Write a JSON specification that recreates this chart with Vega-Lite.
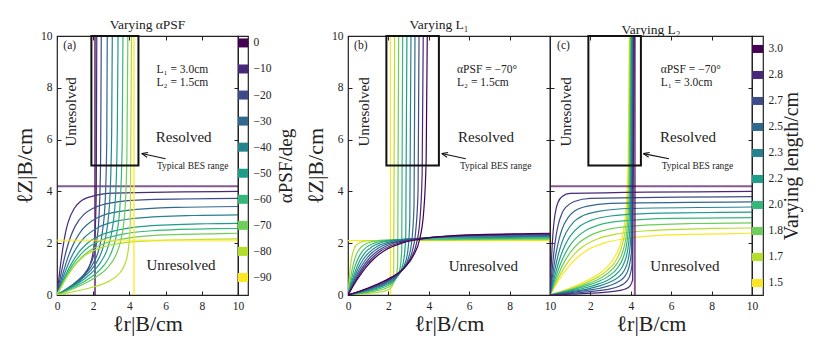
{
"$schema":"https://vega.github.io/schema/vega-lite/v6.json",
"background":"white",
"padding":{"left":12,"top":16,"right":4,"bottom":2},
"bounds":"flush",
"spacing":0,
"config":{
 "font":"Liberation Serif",
 "view":{"stroke":"#222","strokeWidth":1.2},
 "axis":{"grid":false,"domain":false,"tickSize":-4,"tickColor":"#222","tickWidth":1,"labelPadding":9,"labelFont":"Liberation Serif","labelFontSize":11.5,"labelColor":"#222","labelFlush":false,"labelOverlap":false,"titleFont":"Liberation Serif","titleFontWeight":"normal","titleFontSize":22,"titleColor":"#222"},
 "axisX":{"titlePadding":2},
 "title":{"font":"Liberation Serif","fontSize":13.5,"fontWeight":"normal","color":"#222","offset":-1},
 "text":{"font":"Liberation Serif","color":"#222"}
},
"datasets":{
"A":[
{"k":0,"s":"h","x":0,"y":4.2},{"k":0,"s":"h","x":10.5,"y":4.2},
{"k":0,"s":"v","x":2.1,"y":0},{"k":0,"s":"v","x":2.1,"y":10.5},
{"k":-10,"s":"h","x":0,"y":0},{"k":-10,"s":"h","x":0.16,"y":0.97},{"k":-10,"s":"h","x":0.32,"y":1.79},{"k":-10,"s":"h","x":0.47,"y":2.41},{"k":-10,"s":"h","x":0.63,"y":2.84},{"k":-10,"s":"h","x":0.95,"y":3.34},{"k":-10,"s":"h","x":1.26,"y":3.59},{"k":-10,"s":"h","x":1.89,"y":3.8},{"k":-10,"s":"h","x":3.15,"y":3.93},{"k":-10,"s":"h","x":10.5,"y":4.0},
{"k":-10,"s":"v","x":0,"y":0},{"k":-10,"s":"v","x":0.54,"y":0.2},{"k":-10,"s":"v","x":0.99,"y":0.4},{"k":-10,"s":"v","x":1.33,"y":0.6},{"k":-10,"s":"v","x":1.56,"y":0.8},{"k":-10,"s":"v","x":1.84,"y":1.2},{"k":-10,"s":"v","x":1.98,"y":1.6},{"k":-10,"s":"v","x":2.1,"y":2.4},{"k":-10,"s":"v","x":2.17,"y":4},{"k":-10,"s":"v","x":2.2,"y":10.5},
{"k":-20,"s":"h","x":0,"y":0},{"k":-20,"s":"h","x":0.25,"y":0.91},{"k":-20,"s":"h","x":0.5,"y":1.68},{"k":-20,"s":"h","x":0.75,"y":2.25},{"k":-20,"s":"h","x":1,"y":2.65},{"k":-20,"s":"h","x":1.5,"y":3.12},{"k":-20,"s":"h","x":2,"y":3.35},{"k":-20,"s":"h","x":3,"y":3.56},{"k":-20,"s":"h","x":5,"y":3.68},{"k":-20,"s":"h","x":10.5,"y":3.73},
{"k":-20,"s":"v","x":0,"y":0},{"k":-20,"s":"v","x":0.6,"y":0.26},{"k":-20,"s":"v","x":1.1,"y":0.53},{"k":-20,"s":"v","x":1.48,"y":0.79},{"k":-20,"s":"v","x":1.74,"y":1.05},{"k":-20,"s":"v","x":2.05,"y":1.58},{"k":-20,"s":"v","x":2.2,"y":2.1},{"k":-20,"s":"v","x":2.33,"y":3.15},{"k":-20,"s":"v","x":2.41,"y":5.25},{"k":-20,"s":"v","x":2.45,"y":10.5},
{"k":-30,"s":"h","x":0,"y":0},{"k":-30,"s":"h","x":0.33,"y":0.84},{"k":-30,"s":"h","x":0.65,"y":1.54},{"k":-30,"s":"h","x":0.98,"y":2.07},{"k":-30,"s":"h","x":1.3,"y":2.44},{"k":-30,"s":"h","x":1.95,"y":2.87},{"k":-30,"s":"h","x":2.6,"y":3.09},{"k":-30,"s":"h","x":3.9,"y":3.27},{"k":-30,"s":"h","x":6.5,"y":3.38},{"k":-30,"s":"h","x":10.5,"y":3.42},
{"k":-30,"s":"v","x":0,"y":0},{"k":-30,"s":"v","x":0.68,"y":0.3},{"k":-30,"s":"v","x":1.25,"y":0.6},{"k":-30,"s":"v","x":1.68,"y":0.9},{"k":-30,"s":"v","x":1.98,"y":1.2},{"k":-30,"s":"v","x":2.33,"y":1.8},{"k":-30,"s":"v","x":2.5,"y":2.4},{"k":-30,"s":"v","x":2.66,"y":3.6},{"k":-30,"s":"v","x":2.75,"y":6},{"k":-30,"s":"v","x":2.78,"y":10.5},
{"k":-40,"s":"h","x":0,"y":0},{"k":-40,"s":"h","x":0.38,"y":0.76},{"k":-40,"s":"h","x":0.75,"y":1.4},{"k":-40,"s":"h","x":1.13,"y":1.88},{"k":-40,"s":"h","x":1.5,"y":2.21},{"k":-40,"s":"h","x":2.25,"y":2.6},{"k":-40,"s":"h","x":3,"y":2.8},{"k":-40,"s":"h","x":4.5,"y":2.97},{"k":-40,"s":"h","x":7.5,"y":3.07},{"k":-40,"s":"h","x":10.5,"y":3.1},
{"k":-40,"s":"v","x":0,"y":0},{"k":-40,"s":"v","x":0.75,"y":0.31},{"k":-40,"s":"v","x":1.38,"y":0.63},{"k":-40,"s":"v","x":1.85,"y":0.94},{"k":-40,"s":"v","x":2.18,"y":1.25},{"k":-40,"s":"v","x":2.56,"y":1.88},{"k":-40,"s":"v","x":2.75,"y":2.5},{"k":-40,"s":"v","x":2.92,"y":3.75},{"k":-40,"s":"v","x":3.02,"y":6.25},{"k":-40,"s":"v","x":3.06,"y":10.5},
{"k":-50,"s":"h","x":0,"y":0},{"k":-50,"s":"h","x":0.41,"y":0.68},{"k":-50,"s":"h","x":0.83,"y":1.25},{"k":-50,"s":"h","x":1.24,"y":1.68},{"k":-50,"s":"h","x":1.65,"y":1.98},{"k":-50,"s":"h","x":2.48,"y":2.33},{"k":-50,"s":"h","x":3.3,"y":2.5},{"k":-50,"s":"h","x":4.95,"y":2.66},{"k":-50,"s":"h","x":8.25,"y":2.75},{"k":-50,"s":"h","x":10.5,"y":2.77},
{"k":-50,"s":"v","x":0,"y":0},{"k":-50,"s":"v","x":0.82,"y":0.31},{"k":-50,"s":"v","x":1.52,"y":0.63},{"k":-50,"s":"v","x":2.04,"y":0.94},{"k":-50,"s":"v","x":2.4,"y":1.25},{"k":-50,"s":"v","x":2.83,"y":1.88},{"k":-50,"s":"v","x":3.04,"y":2.5},{"k":-50,"s":"v","x":3.23,"y":3.75},{"k":-50,"s":"v","x":3.33,"y":6.25},{"k":-50,"s":"v","x":3.38,"y":10.5},
{"k":-60,"s":"h","x":0,"y":0},{"k":-60,"s":"h","x":0.44,"y":0.63},{"k":-60,"s":"h","x":0.88,"y":1.17},{"k":-60,"s":"h","x":1.31,"y":1.57},{"k":-60,"s":"h","x":1.75,"y":1.85},{"k":-60,"s":"h","x":2.63,"y":2.17},{"k":-60,"s":"h","x":3.5,"y":2.33},{"k":-60,"s":"h","x":5.25,"y":2.48},{"k":-60,"s":"h","x":8.75,"y":2.56},{"k":-60,"s":"h","x":10.5,"y":2.57},
{"k":-60,"s":"v","x":0,"y":0},{"k":-60,"s":"v","x":0.89,"y":0.29},{"k":-60,"s":"v","x":1.64,"y":0.58},{"k":-60,"s":"v","x":2.2,"y":0.86},{"k":-60,"s":"v","x":2.6,"y":1.15},{"k":-60,"s":"v","x":3.05,"y":1.73},{"k":-60,"s":"v","x":3.28,"y":2.3},{"k":-60,"s":"v","x":3.48,"y":3.45},{"k":-60,"s":"v","x":3.6,"y":5.75},{"k":-60,"s":"v","x":3.65,"y":10.5},
{"k":-70,"s":"h","x":0,"y":0},{"k":-70,"s":"h","x":0.45,"y":0.59},{"k":-70,"s":"h","x":0.9,"y":1.08},{"k":-70,"s":"h","x":1.35,"y":1.45},{"k":-70,"s":"h","x":1.8,"y":1.71},{"k":-70,"s":"h","x":2.7,"y":2.01},{"k":-70,"s":"h","x":3.6,"y":2.16},{"k":-70,"s":"h","x":5.4,"y":2.3},{"k":-70,"s":"h","x":9,"y":2.37},{"k":-70,"s":"h","x":10.5,"y":2.39},
{"k":-70,"s":"v","x":0,"y":0},{"k":-70,"s":"v","x":0.96,"y":0.26},{"k":-70,"s":"v","x":1.76,"y":0.53},{"k":-70,"s":"v","x":2.36,"y":0.79},{"k":-70,"s":"v","x":2.79,"y":1.05},{"k":-70,"s":"v","x":3.28,"y":1.58},{"k":-70,"s":"v","x":3.52,"y":2.1},{"k":-70,"s":"v","x":3.74,"y":3.15},{"k":-70,"s":"v","x":3.86,"y":5.25},{"k":-70,"s":"v","x":3.92,"y":10.5},
{"k":-80,"s":"h","x":0,"y":0},{"k":-80,"s":"h","x":0.4,"y":0.53},{"k":-80,"s":"h","x":0.8,"y":0.98},{"k":-80,"s":"h","x":1.2,"y":1.31},{"k":-80,"s":"h","x":1.6,"y":1.55},{"k":-80,"s":"h","x":2.4,"y":1.82},{"k":-80,"s":"h","x":3.2,"y":1.96},{"k":-80,"s":"h","x":4.8,"y":2.08},{"k":-80,"s":"h","x":8,"y":2.15},{"k":-80,"s":"h","x":10.5,"y":2.17},
{"k":-80,"s":"v","x":0,"y":0},{"k":-80,"s":"v","x":1.0,"y":0.14},{"k":-80,"s":"v","x":1.85,"y":0.28},{"k":-80,"s":"v","x":2.48,"y":0.41},{"k":-80,"s":"v","x":2.92,"y":0.55},{"k":-80,"s":"v","x":3.44,"y":0.83},{"k":-80,"s":"v","x":3.69,"y":1.1},{"k":-80,"s":"v","x":3.92,"y":1.65},{"k":-80,"s":"v","x":4.05,"y":2.75},{"k":-80,"s":"v","x":4.12,"y":10.5},
{"k":-90,"s":"h","x":0,"y":2.1},{"k":-90,"s":"h","x":10.5,"y":2.1},
{"k":-90,"s":"v","x":4.25,"y":0},{"k":-90,"s":"v","x":4.25,"y":10.5}
],
"B":[
{"k":1.5,"s":"h","x":0,"y":2.1},{"k":1.5,"s":"h","x":10.5,"y":2.1},
{"k":1.5,"s":"v","x":2.1,"y":0},{"k":1.5,"s":"v","x":2.1,"y":10.5},
{"k":1.667,"s":"h","x":0,"y":0},{"k":1.667,"s":"h","x":0.05,"y":0.52},{"k":1.667,"s":"h","x":0.1,"y":0.96},{"k":1.667,"s":"h","x":0.15,"y":1.28},{"k":1.667,"s":"h","x":0.2,"y":1.51},{"k":1.667,"s":"h","x":0.3,"y":1.78},{"k":1.667,"s":"h","x":0.4,"y":1.91},{"k":1.667,"s":"h","x":0.6,"y":2.03},{"k":1.667,"s":"h","x":1,"y":2.1},{"k":1.667,"s":"h","x":10.5,"y":2.14},
{"k":1.667,"s":"v","x":0,"y":0},{"k":1.667,"s":"v","x":0.56,"y":0.03},{"k":1.667,"s":"v","x":1.03,"y":0.06},{"k":1.667,"s":"v","x":1.38,"y":0.09},{"k":1.667,"s":"v","x":1.63,"y":0.12},{"k":1.667,"s":"v","x":1.92,"y":0.18},{"k":1.667,"s":"v","x":2.06,"y":0.23},{"k":1.667,"s":"v","x":2.19,"y":0.35},{"k":1.667,"s":"v","x":2.26,"y":0.58},{"k":1.667,"s":"v","x":2.31,"y":10.5},
{"k":1.833,"s":"h","x":0,"y":0},{"k":1.833,"s":"h","x":0.1,"y":0.53},{"k":1.833,"s":"h","x":0.2,"y":0.97},{"k":1.833,"s":"h","x":0.3,"y":1.3},{"k":1.833,"s":"h","x":0.4,"y":1.54},{"k":1.833,"s":"h","x":0.6,"y":1.81},{"k":1.833,"s":"h","x":0.8,"y":1.94},{"k":1.833,"s":"h","x":1.2,"y":2.06},{"k":1.833,"s":"h","x":2,"y":2.13},{"k":1.833,"s":"h","x":10.5,"y":2.17},
{"k":1.833,"s":"v","x":0,"y":0},{"k":1.833,"s":"v","x":0.61,"y":0.06},{"k":1.833,"s":"v","x":1.12,"y":0.12},{"k":1.833,"s":"v","x":1.51,"y":0.18},{"k":1.833,"s":"v","x":1.78,"y":0.23},{"k":1.833,"s":"v","x":2.09,"y":0.35},{"k":1.833,"s":"v","x":2.25,"y":0.47},{"k":1.833,"s":"v","x":2.38,"y":0.7},{"k":1.833,"s":"v","x":2.46,"y":1.17},{"k":1.833,"s":"v","x":2.51,"y":10.5},
{"k":2,"s":"h","x":0,"y":0},{"k":2,"s":"h","x":0.15,"y":0.54},{"k":2,"s":"h","x":0.3,"y":0.99},{"k":2,"s":"h","x":0.45,"y":1.32},{"k":2,"s":"h","x":0.6,"y":1.56},{"k":2,"s":"h","x":0.9,"y":1.84},{"k":2,"s":"h","x":1.2,"y":1.97},{"k":2,"s":"h","x":1.8,"y":2.09},{"k":2,"s":"h","x":3,"y":2.16},{"k":2,"s":"h","x":10.5,"y":2.2},
{"k":2,"s":"v","x":0,"y":0},{"k":2,"s":"v","x":0.66,"y":0.09},{"k":2,"s":"v","x":1.21,"y":0.18},{"k":2,"s":"v","x":1.63,"y":0.26},{"k":2,"s":"v","x":1.92,"y":0.35},{"k":2,"s":"v","x":2.26,"y":0.53},{"k":2,"s":"v","x":2.43,"y":0.7},{"k":2,"s":"v","x":2.58,"y":1.05},{"k":2,"s":"v","x":2.66,"y":1.75},{"k":2,"s":"v","x":2.71,"y":10.5},
{"k":2.167,"s":"h","x":0,"y":0},{"k":2.167,"s":"h","x":0.2,"y":0.54},{"k":2.167,"s":"h","x":0.4,"y":1},{"k":2.167,"s":"h","x":0.6,"y":1.35},{"k":2.167,"s":"h","x":0.8,"y":1.59},{"k":2.167,"s":"h","x":1.2,"y":1.87},{"k":2.167,"s":"h","x":1.6,"y":2.01},{"k":2.167,"s":"h","x":2.4,"y":2.13},{"k":2.167,"s":"h","x":4,"y":2.2},{"k":2.167,"s":"h","x":10.5,"y":2.24},
{"k":2.167,"s":"v","x":0,"y":0},{"k":2.167,"s":"v","x":0.71,"y":0.12},{"k":2.167,"s":"v","x":1.31,"y":0.23},{"k":2.167,"s":"v","x":1.75,"y":0.35},{"k":2.167,"s":"v","x":2.07,"y":0.47},{"k":2.167,"s":"v","x":2.43,"y":0.7},{"k":2.167,"s":"v","x":2.61,"y":0.93},{"k":2.167,"s":"v","x":2.77,"y":1.4},{"k":2.167,"s":"v","x":2.86,"y":2.33},{"k":2.167,"s":"v","x":2.92,"y":10.5},
{"k":2.333,"s":"h","x":0,"y":0},{"k":2.333,"s":"h","x":0.25,"y":0.55},{"k":2.333,"s":"h","x":0.5,"y":1.02},{"k":2.333,"s":"h","x":0.75,"y":1.37},{"k":2.333,"s":"h","x":1,"y":1.61},{"k":2.333,"s":"h","x":1.5,"y":1.9},{"k":2.333,"s":"h","x":2,"y":2.04},{"k":2.333,"s":"h","x":3,"y":2.16},{"k":2.333,"s":"h","x":5,"y":2.23},{"k":2.333,"s":"h","x":10.5,"y":2.27},
{"k":2.333,"s":"v","x":0,"y":0},{"k":2.333,"s":"v","x":0.76,"y":0.15},{"k":2.333,"s":"v","x":1.4,"y":0.29},{"k":2.333,"s":"v","x":1.88,"y":0.44},{"k":2.333,"s":"v","x":2.21,"y":0.58},{"k":2.333,"s":"v","x":2.6,"y":0.88},{"k":2.333,"s":"v","x":2.8,"y":1.17},{"k":2.333,"s":"v","x":2.97,"y":1.75},{"k":2.333,"s":"v","x":3.06,"y":2.92},{"k":2.333,"s":"v","x":3.12,"y":10.5},
{"k":2.5,"s":"h","x":0,"y":0},{"k":2.5,"s":"h","x":0.3,"y":0.56},{"k":2.5,"s":"h","x":0.6,"y":1.03},{"k":2.5,"s":"h","x":0.9,"y":1.39},{"k":2.5,"s":"h","x":1.2,"y":1.64},{"k":2.5,"s":"h","x":1.8,"y":1.93},{"k":2.5,"s":"h","x":2.4,"y":2.07},{"k":2.5,"s":"h","x":3.6,"y":2.19},{"k":2.5,"s":"h","x":6,"y":2.27},{"k":2.5,"s":"h","x":10.5,"y":2.3},
{"k":2.5,"s":"v","x":0,"y":0},{"k":2.5,"s":"v","x":0.81,"y":0.18},{"k":2.5,"s":"v","x":1.49,"y":0.35},{"k":2.5,"s":"v","x":2,"y":0.53},{"k":2.5,"s":"v","x":2.36,"y":0.7},{"k":2.5,"s":"v","x":2.77,"y":1.05},{"k":2.5,"s":"v","x":2.98,"y":1.4},{"k":2.5,"s":"v","x":3.16,"y":2.1},{"k":2.5,"s":"v","x":3.27,"y":3.5},{"k":2.5,"s":"v","x":3.32,"y":10.5},
{"k":2.667,"s":"h","x":0,"y":0},{"k":2.667,"s":"h","x":0.35,"y":0.57},{"k":2.667,"s":"h","x":0.7,"y":1.05},{"k":2.667,"s":"h","x":1.05,"y":1.41},{"k":2.667,"s":"h","x":1.4,"y":1.66},{"k":2.667,"s":"h","x":2.1,"y":1.96},{"k":2.667,"s":"h","x":2.8,"y":2.1},{"k":2.667,"s":"h","x":4.2,"y":2.23},{"k":2.667,"s":"h","x":7,"y":2.3},{"k":2.667,"s":"h","x":10.5,"y":2.33},
{"k":2.667,"s":"v","x":0,"y":0},{"k":2.667,"s":"v","x":0.86,"y":0.2},{"k":2.667,"s":"v","x":1.58,"y":0.41},{"k":2.667,"s":"v","x":2.12,"y":0.61},{"k":2.667,"s":"v","x":2.5,"y":0.82},{"k":2.667,"s":"v","x":2.94,"y":1.23},{"k":2.667,"s":"v","x":3.16,"y":1.63},{"k":2.667,"s":"v","x":3.35,"y":2.45},{"k":2.667,"s":"v","x":3.47,"y":4.08},{"k":2.667,"s":"v","x":3.52,"y":10.5},
{"k":2.833,"s":"h","x":0,"y":0},{"k":2.833,"s":"h","x":0.4,"y":0.58},{"k":2.833,"s":"h","x":0.8,"y":1.07},{"k":2.833,"s":"h","x":1.2,"y":1.43},{"k":2.833,"s":"h","x":1.6,"y":1.69},{"k":2.833,"s":"h","x":2.4,"y":1.98},{"k":2.833,"s":"h","x":3.2,"y":2.13},{"k":2.833,"s":"h","x":4.8,"y":2.26},{"k":2.833,"s":"h","x":8,"y":2.34},{"k":2.833,"s":"h","x":10.5,"y":2.36},
{"k":2.833,"s":"v","x":0,"y":0},{"k":2.833,"s":"v","x":0.91,"y":0.23},{"k":2.833,"s":"v","x":1.67,"y":0.47},{"k":2.833,"s":"v","x":2.24,"y":0.7},{"k":2.833,"s":"v","x":2.65,"y":0.93},{"k":2.833,"s":"v","x":3.11,"y":1.4},{"k":2.833,"s":"v","x":3.35,"y":1.87},{"k":2.833,"s":"v","x":3.55,"y":2.8},{"k":2.833,"s":"v","x":3.67,"y":4.67},{"k":2.833,"s":"v","x":3.73,"y":10.5},
{"k":3,"s":"h","x":0,"y":0},{"k":3,"s":"h","x":0.45,"y":0.59},{"k":3,"s":"h","x":0.9,"y":1.08},{"k":3,"s":"h","x":1.35,"y":1.45},{"k":3,"s":"h","x":1.8,"y":1.71},{"k":3,"s":"h","x":2.7,"y":2.01},{"k":3,"s":"h","x":3.6,"y":2.16},{"k":3,"s":"h","x":5.4,"y":2.3},{"k":3,"s":"h","x":9,"y":2.37},{"k":3,"s":"h","x":10.5,"y":2.39},
{"k":3,"s":"v","x":0,"y":0},{"k":3,"s":"v","x":0.96,"y":0.26},{"k":3,"s":"v","x":1.76,"y":0.53},{"k":3,"s":"v","x":2.37,"y":0.79},{"k":3,"s":"v","x":2.79,"y":1.05},{"k":3,"s":"v","x":3.28,"y":1.58},{"k":3,"s":"v","x":3.53,"y":2.1},{"k":3,"s":"v","x":3.74,"y":3.15},{"k":3,"s":"v","x":3.87,"y":5.25},{"k":3,"s":"v","x":3.93,"y":10.5}
],
"C":[
{"k":1.5,"s":"h","x":0,"y":0},{"k":1.5,"s":"h","x":0.45,"y":0.59},{"k":1.5,"s":"h","x":0.9,"y":1.08},{"k":1.5,"s":"h","x":1.35,"y":1.45},{"k":1.5,"s":"h","x":1.8,"y":1.71},{"k":1.5,"s":"h","x":2.7,"y":2.01},{"k":1.5,"s":"h","x":3.6,"y":2.16},{"k":1.5,"s":"h","x":5.4,"y":2.3},{"k":1.5,"s":"h","x":9,"y":2.37},{"k":1.5,"s":"h","x":10.5,"y":2.39},
{"k":1.5,"s":"v","x":0,"y":0},{"k":1.5,"s":"v","x":0.96,"y":0.26},{"k":1.5,"s":"v","x":1.76,"y":0.53},{"k":1.5,"s":"v","x":2.37,"y":0.79},{"k":1.5,"s":"v","x":2.79,"y":1.05},{"k":1.5,"s":"v","x":3.28,"y":1.58},{"k":1.5,"s":"v","x":3.53,"y":2.1},{"k":1.5,"s":"v","x":3.74,"y":3.15},{"k":1.5,"s":"v","x":3.87,"y":5.25},{"k":1.5,"s":"v","x":3.93,"y":10.5},
{"k":1.667,"s":"h","x":0,"y":0},{"k":1.667,"s":"h","x":0.4,"y":0.63},{"k":1.667,"s":"h","x":0.8,"y":1.17},{"k":1.667,"s":"h","x":1.2,"y":1.57},{"k":1.667,"s":"h","x":1.6,"y":1.85},{"k":1.667,"s":"h","x":2.4,"y":2.18},{"k":1.667,"s":"h","x":3.2,"y":2.34},{"k":1.667,"s":"h","x":4.8,"y":2.48},{"k":1.667,"s":"h","x":8,"y":2.57},{"k":1.667,"s":"h","x":10.5,"y":2.59},
{"k":1.667,"s":"v","x":0,"y":0},{"k":1.667,"s":"v","x":0.96,"y":0.23},{"k":1.667,"s":"v","x":1.78,"y":0.47},{"k":1.667,"s":"v","x":2.38,"y":0.7},{"k":1.667,"s":"v","x":2.81,"y":0.93},{"k":1.667,"s":"v","x":3.31,"y":1.4},{"k":1.667,"s":"v","x":3.55,"y":1.87},{"k":1.667,"s":"v","x":3.77,"y":2.8},{"k":1.667,"s":"v","x":3.9,"y":4.67},{"k":1.667,"s":"v","x":3.96,"y":10.5},
{"k":1.833,"s":"h","x":0,"y":0},{"k":1.833,"s":"h","x":0.35,"y":0.68},{"k":1.833,"s":"h","x":0.7,"y":1.26},{"k":1.833,"s":"h","x":1.05,"y":1.69},{"k":1.833,"s":"h","x":1.4,"y":1.99},{"k":1.833,"s":"h","x":2.1,"y":2.34},{"k":1.833,"s":"h","x":2.8,"y":2.52},{"k":1.833,"s":"h","x":4.2,"y":2.67},{"k":1.833,"s":"h","x":7,"y":2.76},{"k":1.833,"s":"h","x":10.5,"y":2.79},
{"k":1.833,"s":"v","x":0,"y":0},{"k":1.833,"s":"v","x":0.97,"y":0.2},{"k":1.833,"s":"v","x":1.79,"y":0.41},{"k":1.833,"s":"v","x":2.4,"y":0.61},{"k":1.833,"s":"v","x":2.83,"y":0.82},{"k":1.833,"s":"v","x":3.33,"y":1.23},{"k":1.833,"s":"v","x":3.58,"y":1.63},{"k":1.833,"s":"v","x":3.8,"y":2.45},{"k":1.833,"s":"v","x":3.92,"y":4.08},{"k":1.833,"s":"v","x":3.99,"y":10.5},
{"k":2,"s":"h","x":0,"y":0},{"k":2,"s":"h","x":0.3,"y":0.73},{"k":2,"s":"h","x":0.6,"y":1.35},{"k":2,"s":"h","x":0.9,"y":1.81},{"k":2,"s":"h","x":1.2,"y":2.13},{"k":2,"s":"h","x":1.8,"y":2.51},{"k":2,"s":"h","x":2.4,"y":2.7},{"k":2,"s":"h","x":3.6,"y":2.86},{"k":2,"s":"h","x":6,"y":2.96},{"k":2,"s":"h","x":10.5,"y":2.99},
{"k":2,"s":"v","x":0,"y":0},{"k":2,"s":"v","x":0.98,"y":0.18},{"k":2,"s":"v","x":1.8,"y":0.35},{"k":2,"s":"v","x":2.42,"y":0.53},{"k":2,"s":"v","x":2.85,"y":0.7},{"k":2,"s":"v","x":3.35,"y":1.05},{"k":2,"s":"v","x":3.6,"y":1.4},{"k":2,"s":"v","x":3.82,"y":2.1},{"k":2,"s":"v","x":3.95,"y":3.5},{"k":2,"s":"v","x":4.02,"y":10.5},
{"k":2.167,"s":"h","x":0,"y":0},{"k":2.167,"s":"h","x":0.25,"y":0.78},{"k":2.167,"s":"h","x":0.5,"y":1.44},{"k":2.167,"s":"h","x":0.75,"y":1.93},{"k":2.167,"s":"h","x":1,"y":2.27},{"k":2.167,"s":"h","x":1.5,"y":2.67},{"k":2.167,"s":"h","x":2,"y":2.87},{"k":2.167,"s":"h","x":3,"y":3.05},{"k":2.167,"s":"h","x":5,"y":3.15},{"k":2.167,"s":"h","x":10.5,"y":3.2},
{"k":2.167,"s":"v","x":0,"y":0},{"k":2.167,"s":"v","x":0.98,"y":0.15},{"k":2.167,"s":"v","x":1.82,"y":0.29},{"k":2.167,"s":"v","x":2.44,"y":0.44},{"k":2.167,"s":"v","x":2.87,"y":0.58},{"k":2.167,"s":"v","x":3.38,"y":0.88},{"k":2.167,"s":"v","x":3.63,"y":1.17},{"k":2.167,"s":"v","x":3.85,"y":1.75},{"k":2.167,"s":"v","x":3.98,"y":2.92},{"k":2.167,"s":"v","x":4.05,"y":10.5},
{"k":2.333,"s":"h","x":0,"y":0},{"k":2.333,"s":"h","x":0.2,"y":0.83},{"k":2.333,"s":"h","x":0.4,"y":1.53},{"k":2.333,"s":"h","x":0.6,"y":2.05},{"k":2.333,"s":"h","x":0.8,"y":2.41},{"k":2.333,"s":"h","x":1.2,"y":2.84},{"k":2.333,"s":"h","x":1.6,"y":3.05},{"k":2.333,"s":"h","x":2.4,"y":3.23},{"k":2.333,"s":"h","x":4,"y":3.34},{"k":2.333,"s":"h","x":10.5,"y":3.4},
{"k":2.333,"s":"v","x":0,"y":0},{"k":2.333,"s":"v","x":0.99,"y":0.12},{"k":2.333,"s":"v","x":1.83,"y":0.23},{"k":2.333,"s":"v","x":2.45,"y":0.35},{"k":2.333,"s":"v","x":2.89,"y":0.47},{"k":2.333,"s":"v","x":3.4,"y":0.7},{"k":2.333,"s":"v","x":3.66,"y":0.93},{"k":2.333,"s":"v","x":3.88,"y":1.4},{"k":2.333,"s":"v","x":4.01,"y":2.33},{"k":2.333,"s":"v","x":4.08,"y":10.5},
{"k":2.5,"s":"h","x":0,"y":0},{"k":2.5,"s":"h","x":0.15,"y":0.88},{"k":2.5,"s":"h","x":0.3,"y":1.61},{"k":2.5,"s":"h","x":0.45,"y":2.16},{"k":2.5,"s":"h","x":0.6,"y":2.55},{"k":2.5,"s":"h","x":0.9,"y":3},{"k":2.5,"s":"h","x":1.2,"y":3.23},{"k":2.5,"s":"h","x":1.8,"y":3.42},{"k":2.5,"s":"h","x":3,"y":3.54},{"k":2.5,"s":"h","x":10.5,"y":3.6},
{"k":2.5,"s":"v","x":0,"y":0},{"k":2.5,"s":"v","x":1,"y":0.09},{"k":2.5,"s":"v","x":1.84,"y":0.18},{"k":2.5,"s":"v","x":2.47,"y":0.26},{"k":2.5,"s":"v","x":2.91,"y":0.35},{"k":2.5,"s":"v","x":3.42,"y":0.53},{"k":2.5,"s":"v","x":3.68,"y":0.7},{"k":2.5,"s":"v","x":3.9,"y":1.05},{"k":2.5,"s":"v","x":4.04,"y":1.75},{"k":2.5,"s":"v","x":4.11,"y":10.5},
{"k":2.667,"s":"h","x":0,"y":0},{"k":2.667,"s":"h","x":0.1,"y":0.92},{"k":2.667,"s":"h","x":0.2,"y":1.7},{"k":2.667,"s":"h","x":0.3,"y":2.28},{"k":2.667,"s":"h","x":0.4,"y":2.69},{"k":2.667,"s":"h","x":0.6,"y":3.17},{"k":2.667,"s":"h","x":0.8,"y":3.4},{"k":2.667,"s":"h","x":1.2,"y":3.61},{"k":2.667,"s":"h","x":2,"y":3.73},{"k":2.667,"s":"h","x":10.5,"y":3.8},
{"k":2.667,"s":"v","x":0,"y":0},{"k":2.667,"s":"v","x":1.01,"y":0.06},{"k":2.667,"s":"v","x":1.85,"y":0.12},{"k":2.667,"s":"v","x":2.49,"y":0.18},{"k":2.667,"s":"v","x":2.93,"y":0.23},{"k":2.667,"s":"v","x":3.45,"y":0.35},{"k":2.667,"s":"v","x":3.71,"y":0.47},{"k":2.667,"s":"v","x":3.93,"y":0.7},{"k":2.667,"s":"v","x":4.06,"y":1.17},{"k":2.667,"s":"v","x":4.14,"y":10.5},
{"k":2.833,"s":"h","x":0,"y":0},{"k":2.833,"s":"h","x":0.05,"y":0.97},{"k":2.833,"s":"h","x":0.1,"y":1.79},{"k":2.833,"s":"h","x":0.15,"y":2.4},{"k":2.833,"s":"h","x":0.2,"y":2.83},{"k":2.833,"s":"h","x":0.3,"y":3.33},{"k":2.833,"s":"h","x":0.4,"y":3.58},{"k":2.833,"s":"h","x":0.6,"y":3.8},{"k":2.833,"s":"h","x":1,"y":3.92},{"k":2.833,"s":"h","x":10.5,"y":4.0},
{"k":2.833,"s":"v","x":0,"y":0},{"k":2.833,"s":"v","x":1.01,"y":0.03},{"k":2.833,"s":"v","x":1.87,"y":0.06},{"k":2.833,"s":"v","x":2.5,"y":0.09},{"k":2.833,"s":"v","x":2.95,"y":0.12},{"k":2.833,"s":"v","x":3.47,"y":0.18},{"k":2.833,"s":"v","x":3.73,"y":0.23},{"k":2.833,"s":"v","x":3.96,"y":0.35},{"k":2.833,"s":"v","x":4.09,"y":0.58},{"k":2.833,"s":"v","x":4.17,"y":10.5},
{"k":3,"s":"h","x":0,"y":4.2},{"k":3,"s":"h","x":10.5,"y":4.2},
{"k":3,"s":"v","x":4.2,"y":0},{"k":3,"s":"v","x":4.2,"y":10.5}
]
},
"hconcat":[
{
"width":181,"height":259,
"title":{"text":"Varying αPSF"},
"layer":[
 {"data":{"name":"A"},
  "mark":{"type":"line","interpolate":"monotone","clip":true},
  "encoding":{
   "x":{"field":"x","type":"quantitative","scale":{"domain":[0,10],"nice":false,"zero":false},"axis":{"title":"ℓr|B/cm","values":[0,2,4,6,8,10],"format":"d"}},
   "y":{"field":"y","type":"quantitative","scale":{"domain":[0,10],"nice":false,"zero":false},"axis":{"title":"ℓZ|B/cm","values":[0,2,4,6,8,10],"format":"d"}},
   "color":{"field":"k","type":"quantitative","scale":{"scheme":"viridis","domain":[-90,0],"reverse":true},"legend":null},
   "detail":{"field":"s","type":"nominal"},
   "opacity":{"condition":{"test":"datum.k==0||datum.k==-90","value":0.65},"value":1},
   "strokeWidth":{"condition":{"test":"datum.k==0||datum.k==-90","value":2},"value":1.2}
  }},
 {"data":{"values":[{}]},
  "mark":{"type":"rect","fill":"transparent","stroke":"#111","strokeWidth":2},
  "encoding":{"x":{"datum":1.9,"type":"quantitative","axis":{"orient":"top","labels":false,"title":null,"labelPadding":0,"minExtent":0,"maxExtent":0,"values":[0,2,4,6,8,10]}},"x2":{"datum":4.5},
   "y":{"datum":5,"type":"quantitative","axis":{"orient":"right","labels":false,"title":null,"labelPadding":0,"minExtent":0,"maxExtent":0,"values":[0,2,4,6,8,10]}},"y2":{"datum":10}}},
 {"data":{"values":[{}]},
  "mark":{"type":"rule","color":"#111","strokeWidth":1.1},
  "encoding":{"x":{"datum":6.0,"type":"quantitative","axis":null},"y":{"datum":5.26,"type":"quantitative","axis":null},"x2":{"datum":4.68},"y2":{"datum":5.46}}},
 {"data":{"values":[{}]},
  "mark":{"type":"point","shape":"M 0 0 L 2 -0.8 M 0 0 L 2 0.8","filled":false,"stroke":"#111","strokeWidth":1.1,"size":36,"angle":12,"opacity":1},
  "encoding":{"x":{"datum":4.68,"type":"quantitative","axis":null},"y":{"datum":5.46,"type":"quantitative","axis":null}}},
 {"data":{"values":[{"t":"(a)","x":0.35,"y":9.6},{"t":"L₁ = 3.0cm","x":5.5,"y":8.7},{"t":"L₂ = 1.5cm","x":5.5,"y":8.2}]},
  "mark":{"type":"text","align":"left","baseline":"middle","fontSize":11.5},
  "encoding":{"x":{"field":"x","type":"quantitative","axis":null},"y":{"field":"y","type":"quantitative","axis":null},"text":{"field":"t"}}},
 {"data":{"values":[{"t":"Resolved","x":7.0,"y":6.1},{"t":"Unresolved","x":6.85,"y":1.15}]},
  "mark":{"type":"text","align":"center","baseline":"middle","fontSize":15},
  "encoding":{"x":{"field":"x","type":"quantitative","axis":null},"y":{"field":"y","type":"quantitative","axis":null},"text":{"field":"t"}}},
 {"data":{"values":[{"t":"Unresolved","x":0.78,"y":7.07}]},
  "mark":{"type":"text","align":"center","baseline":"middle","fontSize":15,"angle":270},
  "encoding":{"x":{"field":"x","type":"quantitative","axis":null},"y":{"field":"y","type":"quantitative","axis":null},"text":{"field":"t"}}},
 {"data":{"values":[{"t":"Typical BES range","x":5.52,"y":4.98}]},
  "mark":{"type":"text","align":"left","baseline":"middle","fontSize":9.5},
  "encoding":{"x":{"field":"x","type":"quantitative","axis":null},"y":{"field":"y","type":"quantitative","axis":null},"text":{"field":"t"}}}
],
"resolve":{"axis":{"x":"independent","y":"independent"}}
},
{
"width":10,"height":259,
"data":{"values":[{"v":0},{"v":-10},{"v":-20},{"v":-30},{"v":-40},{"v":-50},{"v":-60},{"v":-70},{"v":-80},{"v":-90}]},
"mark":{"type":"bar","orient":"horizontal","clip":true},
"encoding":{
 "x":{"datum":0,"type":"quantitative","scale":{"domain":[0,1],"nice":false,"zero":false},"axis":null},
 "x2":{"datum":1},
 "y":{"field":"v","type":"quantitative","scale":{"domain":[-94.8,0.74],"nice":false,"zero":false},"axis":{"orient":"right","values":[0,-10,-20,-30,-40,-50,-60,-70,-80,-90],"format":"d","title":"αPSF/deg","titleAngle":270,"titleFontSize":19,"titlePadding":25}},
 "size":{"value":9},
 "color":{"field":"v","type":"quantitative","scale":{"scheme":"viridis","domain":[-90,0],"reverse":true},"legend":null}
}
},
{
"width":100,"height":259,
"view":{"stroke":null},
"data":{"values":[]},
"mark":"point"
},
{
"width":202,"height":259,
"title":{"text":"Varying L₁","dx":-10},
"layer":[
 {"data":{"name":"B"},
  "mark":{"type":"line","interpolate":"monotone","clip":true,"strokeWidth":1.2},
  "encoding":{
   "x":{"field":"x","type":"quantitative","scale":{"domain":[0,10],"nice":false,"zero":false},"axis":{"title":"ℓr|B/cm","values":[0,2,4,6,8,10],"format":"d"}},
   "y":{"field":"y","type":"quantitative","scale":{"domain":[0,10],"nice":false,"zero":false},"axis":{"title":"ℓZ|B/cm","values":[0,2,4,6,8,10],"format":"d"}},
   "color":{"field":"k","type":"quantitative","scale":{"scheme":"viridis","domain":[1.5,3],"reverse":true},"legend":null},
   "detail":{"field":"s","type":"nominal"}
  }},
 {"data":{"values":[{}]},
  "mark":{"type":"rect","fill":"transparent","stroke":"#111","strokeWidth":2},
  "encoding":{"x":{"datum":1.9,"type":"quantitative","axis":{"orient":"top","labels":false,"title":null,"labelPadding":0,"minExtent":0,"maxExtent":0,"values":[0,2,4,6,8,10]}},"x2":{"datum":4.5},
   "y":{"datum":5,"type":"quantitative","axis":{"orient":"right","labels":false,"title":null,"labelPadding":0,"minExtent":0,"maxExtent":0,"values":[0,2,4,6,8,10]}},"y2":{"datum":10}}},
 {"data":{"values":[{}]},
  "mark":{"type":"rule","color":"#111","strokeWidth":1.1},
  "encoding":{"x":{"datum":5.83,"type":"quantitative","axis":null},"y":{"datum":5.26,"type":"quantitative","axis":null},"x2":{"datum":4.64},"y2":{"datum":5.46}}},
 {"data":{"values":[{}]},
  "mark":{"type":"point","shape":"M 0 0 L 2 -0.8 M 0 0 L 2 0.8","filled":false,"stroke":"#111","strokeWidth":1.1,"size":36,"angle":12,"opacity":1},
  "encoding":{"x":{"datum":4.64,"type":"quantitative","axis":null},"y":{"datum":5.46,"type":"quantitative","axis":null}}},
 {"data":{"values":[{"t":"(b)","x":0.3,"y":9.6},{"t":"αPSF = −70°","x":5.4,"y":8.7},{"t":"L₂ = 1.5cm","x":5.4,"y":8.2}]},
  "mark":{"type":"text","align":"left","baseline":"middle","fontSize":11.5},
  "encoding":{"x":{"field":"x","type":"quantitative","axis":null},"y":{"field":"y","type":"quantitative","axis":null},"text":{"field":"t"}}},
 {"data":{"values":[{"t":"Resolved","x":6.83,"y":6.1},{"t":"Unresolved","x":6.7,"y":1.12}]},
  "mark":{"type":"text","align":"center","baseline":"middle","fontSize":15},
  "encoding":{"x":{"field":"x","type":"quantitative","axis":null},"y":{"field":"y","type":"quantitative","axis":null},"text":{"field":"t"}}},
 {"data":{"values":[{"t":"Unresolved","x":0.79,"y":7.07}]},
  "mark":{"type":"text","align":"center","baseline":"middle","fontSize":15,"angle":270},
  "encoding":{"x":{"field":"x","type":"quantitative","axis":null},"y":{"field":"y","type":"quantitative","axis":null},"text":{"field":"t"}}},
 {"data":{"values":[{"t":"Typical BES range","x":5.54,"y":4.98}]},
  "mark":{"type":"text","align":"left","baseline":"middle","fontSize":9.5},
  "encoding":{"x":{"field":"x","type":"quantitative","axis":null},"y":{"field":"y","type":"quantitative","axis":null},"text":{"field":"t"}}}
],
"resolve":{"axis":{"x":"independent","y":"independent"}}
},
{
"width":202,"height":259,
"title":{"text":"Varying L₂"},
"layer":[
 {"data":{"name":"C"},
  "mark":{"type":"line","interpolate":"monotone","clip":true},
  "encoding":{
   "x":{"field":"x","type":"quantitative","scale":{"domain":[0,10],"nice":false,"zero":false},"axis":{"title":"ℓr|B/cm","values":[2,4,6,8,10],"format":"d"}},
   "y":{"field":"y","type":"quantitative","scale":{"domain":[0,10],"nice":false,"zero":false},"axis":{"title":null,"labels":false,"values":[0,2,4,6,8,10]}},
   "color":{"field":"k","type":"quantitative","scale":{"scheme":"viridis","domain":[1.5,3],"reverse":true},"legend":null},
   "detail":{"field":"s","type":"nominal"},
   "opacity":{"condition":{"test":"datum.k==3","value":0.65},"value":1},
   "strokeWidth":{"condition":{"test":"datum.k==3","value":2},"value":1.2}
  }},
 {"data":{"values":[{}]},
  "mark":{"type":"rect","fill":"transparent","stroke":"#111","strokeWidth":2},
  "encoding":{"x":{"datum":1.9,"type":"quantitative","axis":{"orient":"top","labels":false,"title":null,"labelPadding":0,"minExtent":0,"maxExtent":0,"values":[0,2,4,6,8,10]}},"x2":{"datum":4.5},
   "y":{"datum":5,"type":"quantitative","axis":{"orient":"right","labels":false,"title":null,"labelPadding":0,"minExtent":0,"maxExtent":0,"values":[0,2,4,6,8,10]}},"y2":{"datum":10}}},
 {"data":{"values":[{}]},
  "mark":{"type":"rule","color":"#111","strokeWidth":1.1},
  "encoding":{"x":{"datum":5.89,"type":"quantitative","axis":null},"y":{"datum":5.26,"type":"quantitative","axis":null},"x2":{"datum":4.62},"y2":{"datum":5.46}}},
 {"data":{"values":[{}]},
  "mark":{"type":"point","shape":"M 0 0 L 2 -0.8 M 0 0 L 2 0.8","filled":false,"stroke":"#111","strokeWidth":1.1,"size":36,"angle":12,"opacity":1},
  "encoding":{"x":{"datum":4.62,"type":"quantitative","axis":null},"y":{"datum":5.46,"type":"quantitative","axis":null}}},
 {"data":{"values":[{"t":"(c)","x":0.35,"y":9.6},{"t":"αPSF = −70°","x":5.48,"y":8.7},{"t":"L₁ = 3.0cm","x":5.48,"y":8.2}]},
  "mark":{"type":"text","align":"left","baseline":"middle","fontSize":11.5},
  "encoding":{"x":{"field":"x","type":"quantitative","axis":null},"y":{"field":"y","type":"quantitative","axis":null},"text":{"field":"t"}}},
 {"data":{"values":[{"t":"Resolved","x":6.83,"y":6.1},{"t":"Unresolved","x":6.68,"y":1.12}]},
  "mark":{"type":"text","align":"center","baseline":"middle","fontSize":15},
  "encoding":{"x":{"field":"x","type":"quantitative","axis":null},"y":{"field":"y","type":"quantitative","axis":null},"text":{"field":"t"}}},
 {"data":{"values":[{"t":"Unresolved","x":0.78,"y":7.07}]},
  "mark":{"type":"text","align":"center","baseline":"middle","fontSize":15,"angle":270},
  "encoding":{"x":{"field":"x","type":"quantitative","axis":null},"y":{"field":"y","type":"quantitative","axis":null},"text":{"field":"t"}}},
 {"data":{"values":[{"t":"Typical BES range","x":5.53,"y":4.98}]},
  "mark":{"type":"text","align":"left","baseline":"middle","fontSize":9.5},
  "encoding":{"x":{"field":"x","type":"quantitative","axis":null},"y":{"field":"y","type":"quantitative","axis":null},"text":{"field":"t"}}}
],
"resolve":{"axis":{"x":"independent","y":"independent"}}
},
{
"width":11,"height":259,
"data":{"values":[{"v":1.5},{"v":1.6667},{"v":1.8333},{"v":2},{"v":2.1667},{"v":2.3333},{"v":2.5},{"v":2.6667},{"v":2.8333},{"v":3}]},
"mark":{"type":"bar","orient":"horizontal","clip":true},
"encoding":{
 "x":{"datum":0,"type":"quantitative","scale":{"domain":[0,1],"nice":false,"zero":false},"axis":null},
 "x2":{"datum":1},
 "y":{"field":"v","type":"quantitative","scale":{"domain":[1.455,3.051],"nice":false,"zero":false},"axis":{"orient":"right","values":[1.5,1.6667,1.8333,2,2.1667,2.3333,2.5,2.6667,2.8333,3],"format":".1f","title":"Varying length/cm","titleAngle":270,"titleFontSize":20,"titlePadding":19}},
 "size":{"value":8},
 "color":{"field":"v","type":"quantitative","scale":{"scheme":"viridis","domain":[1.5,3],"reverse":true},"legend":null}
}
}
],
"resolve":{"scale":{"x":"independent","y":"independent","color":"independent"}}
}
